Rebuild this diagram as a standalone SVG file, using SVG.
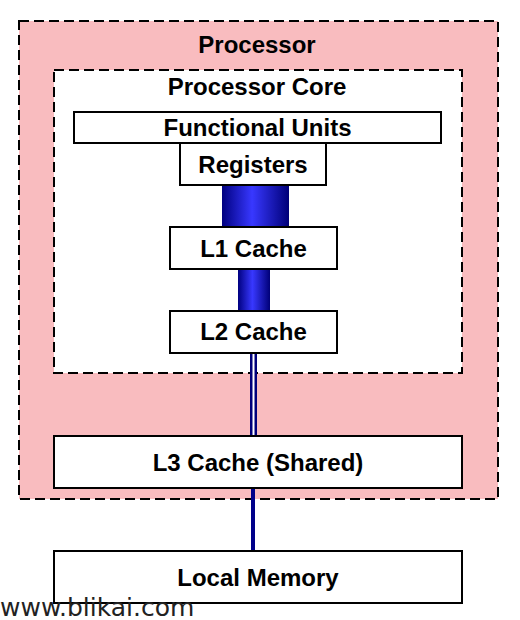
<svg xmlns="http://www.w3.org/2000/svg" width="520" height="620" viewBox="0 0 520 620">
<defs>
<style>
.lbl{font-family:"Liberation Sans",Arial,sans-serif;font-weight:bold;font-size:24px;fill:#000;text-anchor:middle}
.box{fill:#fff;stroke:#000;stroke-width:2}
.dash{stroke:#000;stroke-width:2;stroke-dasharray:10 5}
</style>
<linearGradient id="cyl" x1="0" y1="0" x2="1" y2="0">
<stop offset="0" stop-color="#000080"/>
<stop offset="0.45" stop-color="#3838ff"/>
<stop offset="1" stop-color="#000078"/>
</linearGradient>
</defs>
<rect width="520" height="620" fill="#fff"/>
<g id="processor">
<rect x="19" y="21" width="479" height="478" fill="#f9bcbf" class="dash"/>
<text class="lbl" x="257" y="52.5">Processor</text>
</g>
<g id="core">
<rect x="54" y="70" width="408" height="303" fill="#fff" class="dash"/>
<text class="lbl" x="257" y="95">Processor Core</text>
</g>
<g id="connectors">
<rect x="222" y="185" width="67" height="42" fill="url(#cyl)"/>
<rect x="238" y="269" width="32" height="42" fill="url(#cyl)"/>
<rect x="250" y="353" width="7" height="83" fill="#00007a"/>
<rect x="252.5" y="353" width="2" height="83" fill="#fff"/>
<line x1="253" y1="488" x2="253" y2="551" stroke="#00008a" stroke-width="4"/>
</g>
<g id="functional-units">
<rect x="74" y="112" width="367" height="31" class="box"/>
<text class="lbl" x="257.5" y="135.5">Functional Units</text>
</g>
<g id="registers">
<rect x="180" y="143" width="146" height="42" class="box"/>
<text class="lbl" x="253" y="172.5">Registers</text>
</g>
<g id="l1">
<rect x="170" y="227" width="167" height="42" class="box"/>
<text class="lbl" x="253.5" y="256.5">L1 Cache</text>
</g>
<g id="l2">
<rect x="170" y="311" width="167" height="42" class="box"/>
<text class="lbl" x="253.5" y="340">L2 Cache</text>
</g>
<g id="l3">
<rect x="54" y="436" width="408" height="52" class="box"/>
<text class="lbl" x="258" y="470.5">L3 Cache (Shared)</text>
</g>
<g id="memory">
<rect x="54" y="551" width="408" height="52" class="box"/>
<text class="lbl" x="258" y="585.5">Local Memory</text>
</g>
<text x="0" y="616" font-family="DejaVu Sans,sans-serif" font-size="25" fill="#222">www.blikai.com</text>
</svg>
